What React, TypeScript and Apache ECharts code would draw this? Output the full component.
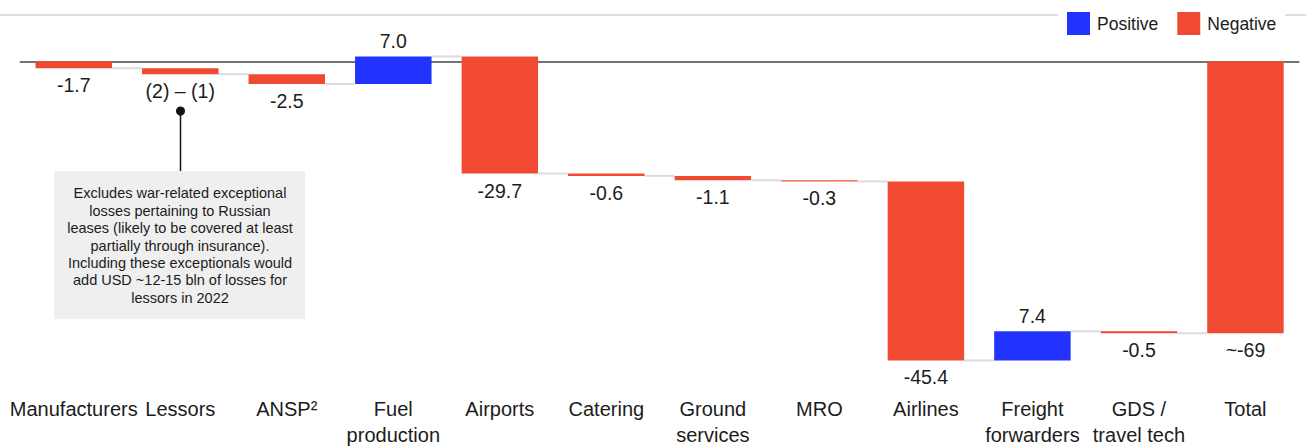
import { useEffect, useRef } from 'react';
import * as echarts from 'echarts';

// Profit pool shift by value-chain segment (USD bln), drawn as a waterfall
const categories = [
  'Manufacturers',
  'Lessors',
  'ANSP²',
  'Fuel\nproduction',
  'Airports',
  'Catering',
  'Ground\nservices',
  'MRO',
  'Airlines',
  'Freight\nforwarders',
  'GDS /\ntravel tech',
  'Total',
];

// Change contributed by each segment (the final "Total" bar is their running sum)
const changes = [-1.7, -1.5, -2.5, 7.0, -29.7, -0.6, -1.1, -0.3, -45.4, 7.4, -0.5];

const valueLabels = [
  '-1.7',
  '(2) – (1)',
  '-2.5',
  '7.0',
  '-29.7',
  '-0.6',
  '-1.1',
  '-0.3',
  '-45.4',
  '7.4',
  '-0.5',
  '~-69',
];

const noteLines = [
  'Excludes war-related exceptional',
  'losses pertaining to Russian',
  'leases (likely to be covered at least',
  'partially through insurance).',
  'Including these exceptionals would',
  'add USD ~12-15 bln of losses for',
  'lessors in 2022',
];

const POSITIVE = '#2233FF';
const NEGATIVE = '#F14A33';
const TEXT = '#1c1c1c';
const FONT = '"Liberation Sans", Arial, Helvetica, sans-serif';
const BAR_RATIO = 0.718;

type Step = { idx: number; start: number; end: number; label: string };

function buildSteps(): Step[] {
  const steps: Step[] = [];
  let level = 0;
  changes.forEach((c, i) => {
    steps.push({ idx: i, start: level, end: level + c, label: valueLabels[i] });
    level += c;
  });
  steps.push({ idx: changes.length, start: 0, end: level, label: valueLabels[changes.length] });
  return steps;
}

function barRenderer(rows: Step[], color: string) {
  return (params: any, api: any) => {
    const row = rows[params.dataIndex];
    const a = api.coord([row.idx, row.start]);
    const b = api.coord([row.idx, row.end]);
    const band = api.size([1, 0])[0];
    const w = band * BAR_RATIO;
    const top = Math.min(a[1], b[1]);
    const bottom = Math.max(a[1], b[1]);
    const rising = row.end > row.start;
    return {
      type: 'group',
      children: [
        {
          type: 'rect',
          shape: { x: a[0] - w / 2, y: top, width: w, height: Math.max(bottom - top, 1) },
          style: { fill: color },
        },
        {
          type: 'text',
          x: a[0],
          y: rising ? top - 5 : bottom + 7,
          style: {
            text: row.label,
            fill: TEXT,
            fontSize: 19.5,
            fontFamily: FONT,
            align: 'center',
            verticalAlign: rising ? 'bottom' : 'top',
          },
        },
      ],
    };
  };
}

export default function App() {
  const ref = useRef<HTMLDivElement>(null);

  useEffect(() => {
    document.body.style.margin = '0';
    if (!ref.current) return;
    const chart = echarts.init(ref.current, undefined, { renderer: 'svg' });

    const steps = buildSteps();
    const up = steps.filter((s) => s.end > s.start);
    const down = steps.filter((s) => s.end <= s.start);
    const links = steps.slice(0, -1);

    chart.setOption({
      animation: false,
      backgroundColor: '#ffffff',
      textStyle: { fontFamily: FONT },
      grid: { left: 20.5, right: 7.3, top: 22.1, bottom: 66.8, containLabel: false },
      legend: {
        data: [
          { name: 'Positive', itemStyle: { color: POSITIVE } },
          { name: 'Negative', itemStyle: { color: NEGATIVE } },
        ],
        icon: 'rect',
        itemWidth: 23,
        itemHeight: 23,
        itemGap: 19,
        left: 1058,
        top: 2,
        padding: [10, 9, 10, 9],
        backgroundColor: '#ffffff',
        selectedMode: false,
        z: 10,
        textStyle: { fontSize: 17.5, color: TEXT, fontFamily: FONT, padding: [0, 0, 0, 2] },
      },
      xAxis: [
        {
          type: 'category',
          data: categories,
          position: 'bottom',
          axisLine: { show: false, onZero: false },
          axisTick: { show: false },
          splitLine: { show: false },
          axisLabel: {
            interval: 0,
            margin: 19,
            fontSize: 20,
            lineHeight: 26,
            color: TEXT,
            fontFamily: FONT,
          },
        },
        {
          type: 'category',
          data: categories,
          position: 'top',
          axisLine: { show: true, onZero: true, lineStyle: { color: '#747474', width: 2 } },
          axisTick: { show: false },
          axisLabel: { show: false },
          splitLine: { show: false },
        },
      ],
      yAxis: {
        type: 'value',
        min: -80,
        max: 10,
        show: false,
        splitLine: { show: false },
      },
      graphic: [
        {
          type: 'line',
          z: -1,
          silent: true,
          shape: { x1: 0, y1: 15, x2: 1306, y2: 15 },
          style: { stroke: '#dedede', lineWidth: 2 },
        },
        {
          type: 'line',
          silent: true,
          shape: { x1: 180.5, y1: 111, x2: 180.5, y2: 171 },
          style: { stroke: '#111111', lineWidth: 1.5 },
        },
        {
          type: 'circle',
          silent: true,
          shape: { cx: 180.5, cy: 111, r: 4.5 },
          style: { fill: '#111111' },
        },
        {
          type: 'rect',
          silent: true,
          shape: { x: 54, y: 171, width: 251, height: 148 },
          style: { fill: '#efefef' },
        },
        {
          type: 'text',
          silent: true,
          x: 180,
          y: 245.5,
          style: {
            text: noteLines.join('\n'),
            fontSize: 14.5,
            lineHeight: 17.4,
            fill: TEXT,
            fontFamily: FONT,
            align: 'center',
            verticalAlign: 'middle',
          },
        },
      ],
      series: [
        {
          name: 'connectors',
          type: 'custom',
          silent: true,
          z: 1,
          data: links.map((s) => [s.idx, s.end]),
          encode: { x: 0, y: 1 },
          renderItem: (params: any, api: any) => {
            const row = links[params.dataIndex];
            const p = api.coord([row.idx, row.end]);
            const q = api.coord([row.idx + 1, row.end]);
            const w = api.size([1, 0])[0] * BAR_RATIO;
            return {
              type: 'line',
              shape: { x1: p[0] + w / 2, y1: p[1], x2: q[0] - w / 2, y2: q[1] },
              style: { stroke: '#dcdcdc', lineWidth: 2 },
            };
          },
        },
        {
          name: 'Positive',
          type: 'custom',
          z: 3,
          itemStyle: { color: POSITIVE },
          data: up.map((s) => [s.idx, s.start, s.end]),
          encode: { x: 0, y: [1, 2] },
          renderItem: barRenderer(up, POSITIVE),
        },
        {
          name: 'Negative',
          type: 'custom',
          z: 3,
          itemStyle: { color: NEGATIVE },
          data: down.map((s) => [s.idx, s.start, s.end]),
          encode: { x: 0, y: [1, 2] },
          renderItem: barRenderer(down, NEGATIVE),
        },
      ],
    });

    return () => chart.dispose();
  }, []);

  return <div ref={ref} style={{ width: 1306, height: 448 }} />;
}
